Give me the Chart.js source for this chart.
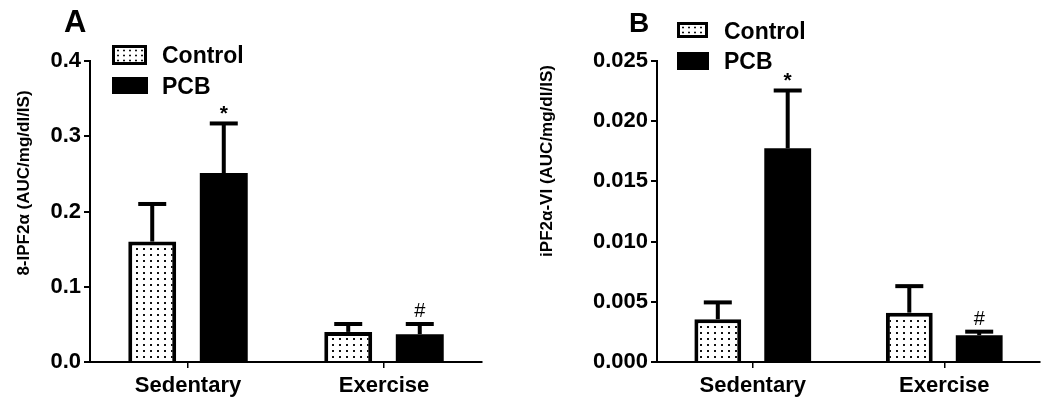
<!DOCTYPE html>
<html>
<head>
<meta charset="utf-8">
<script src="https://cdn.jsdelivr.net/npm/chart.js@4.4.1/dist/chart.umd.min.js"></script>
<style>
  body { margin: 0; background: #fff; width: 1050px; height: 403px; overflow: hidden; position: relative; font-family: "Liberation Sans", Arial, sans-serif; }
  canvas { position: absolute; top: 0; }
  #chartA { left: 0; }
  #chartB { left: 515px; }
  .lbl { position: absolute; font-weight: bold; line-height: 1; color: #000; white-space: nowrap; }
  .sw { position: absolute; box-sizing: border-box; background: #000; }
  .sw.ctrl { background-color: #fff; border: 3px solid #000;
    background-image: radial-gradient(circle, #111 0.9px, transparent 1.2px); background-size: 6px 5px; }
</style>
</head>
<body>
<canvas id="chartA" width="510" height="403"></canvas>
<canvas id="chartB" width="535" height="403"></canvas>

<div class="lbl" style="left:64px;top:6px;font-size:31px;">A</div>
<div class="lbl" style="left:629px;top:9px;font-size:28px;">B</div>

<!-- legend A -->
<div class="sw ctrl" style="left:112px;top:45px;width:35px;height:20px;"></div>
<div class="lbl" style="left:162px;top:44px;font-size:23px;">Control</div>
<div class="sw" style="left:112px;top:77px;width:36px;height:17px;"></div>
<div class="lbl" style="left:162px;top:75px;font-size:23px;">PCB</div>

<!-- legend B -->
<div class="sw ctrl" style="left:677px;top:22px;width:31px;height:16px;"></div>
<div class="lbl" style="left:724px;top:20px;font-size:23px;">Control</div>
<div class="sw" style="left:677px;top:52px;width:32px;height:18px;"></div>
<div class="lbl" style="left:724px;top:50px;font-size:23px;">PCB</div>

<script>
// data
const categories = ['Sedentary', 'Exercise'];

// panel A : 8-IPF2a
const controlA = [0.160, 0.040];
const controlAErr = [0.050, 0.0105];
const pcbA = [0.251, 0.037];
const pcbAErr = [0.066, 0.0135];
const ticksA = [0.0, 0.1, 0.2, 0.3, 0.4];

// panel B : iPF2a-VI
const controlB = [0.00355, 0.0041];
const controlBErr = [0.0014, 0.0022];
const pcbB = [0.01775, 0.00222];
const pcbBErr = [0.0048, 0.0003];
const ticksB = [0.000, 0.005, 0.010, 0.015, 0.020, 0.025];

// significance marks above the PCB bars
const pcbMarks = ['*', '#'];

Chart.defaults.color = '#000';
Chart.defaults.font.family = '"Liberation Sans", Arial, sans-serif';

function dotPattern() {
  const c = document.createElement('canvas');
  c.width = 7; c.height = 6;
  const g = c.getContext('2d');
  g.fillStyle = '#fff';
  g.fillRect(0, 0, 7, 6);
  g.fillStyle = '#111';
  g.fillRect(3, 2, 2, 2);
  return g.createPattern(c, 'repeat');
}

// upper error bars + marks
const errorBars = {
  id: 'errorBars',
  afterDatasetsDraw(chart) {
    const ctx = chart.ctx;
    const y = chart.scales.y;
    chart.data.datasets.forEach((ds, i) => {
      const meta = chart.getDatasetMeta(i);
      meta.data.forEach((bar, j) => {
        const top = y.getPixelForValue(ds.data[j] + ds.errors[j]);
        ctx.save();
        ctx.fillStyle = '#000';
        ctx.fillRect(bar.x - 2, top, 4, bar.y - top);
        ctx.fillRect(bar.x - 14, top - 2, 28, 4);
        if (ds.marks && ds.marks[j]) {
          const star = ds.marks[j] === '*';
          ctx.font = (star ? 'bold 21px' : '20px') + ' "Liberation Sans", Arial, sans-serif';
          ctx.textAlign = 'center';
          ctx.textBaseline = 'alphabetic';
          ctx.fillText(ds.marks[j], bar.x, top - (star ? 3 : 7));
        }
        ctx.restore();
      });
    });
  }
};

// rotated y title placed where the figure has it
const axisTitle = {
  id: 'axisTitle',
  afterDraw(chart, args, opts) {
    const ctx = chart.ctx;
    ctx.save();
    ctx.translate(opts.x, opts.y);
    ctx.rotate(-Math.PI / 2);
    ctx.font = 'bold 17px "Liberation Sans", Arial, sans-serif';
    ctx.fillStyle = '#000';
    ctx.textAlign = 'center';
    ctx.textBaseline = 'middle';
    ctx.fillText(opts.text, 0, 0);
    ctx.restore();
  }
};

function makeChart(id, ctrl, ctrlErr, pcb, pcbErr, ticks, digits, axisW, padRight, title) {
  const pattern = dotPattern();
  return new Chart(document.getElementById(id), {
    type: 'bar',
    data: {
      labels: categories,
      datasets: [{
        label: 'Control',
        data: ctrl,
        errors: ctrlErr,
        backgroundColor: pattern,
        borderColor: '#000',
        borderWidth: 4,
        barPercentage: 0.67,
        categoryPercentage: 0.73
      }, {
        label: 'PCB',
        data: pcb,
        errors: pcbErr,
        marks: pcbMarks,
        backgroundColor: '#000',
        borderWidth: 0,
        barPercentage: 0.67,
        categoryPercentage: 0.73
      }]
    },
    options: {
      responsive: false,
      animation: false,
      layout: { padding: { left: 0, right: padRight, top: 61, bottom: 0 } },
      plugins: {
        legend: { display: false },
        tooltip: { enabled: false },
        axisTitle: title
      },
      scales: {
        x: {
          grid: { display: true, drawOnChartArea: false, offset: false, color: '#000', lineWidth: 1.5, tickLength: 6 },
          border: { color: '#000', width: 2 },
          ticks: { font: { size: 22, weight: 'bold' }, padding: 5 },
          afterFit: s => { s.height = 41; }
        },
        y: {
          min: ticks[0],
          max: ticks[ticks.length - 1],
          grid: { display: true, drawOnChartArea: false, color: '#000', lineWidth: 2, tickLength: 6 },
          border: { color: '#000', width: 2 },
          ticks: {
            font: { size: 22, weight: 'bold' },
            padding: 3,
            callback: v => Number(v).toFixed(digits)
          },
          afterBuildTicks: s => { s.ticks = ticks.map(v => ({ value: v })); },
          afterFit: s => { s.width = axisW; }
        }
      }
    },
    plugins: [errorBars, axisTitle]
  });
}

makeChart('chartA', controlA, controlAErr, pcbA, pcbAErr, ticksA, 1, 90, 28,
  { text: '8-IPF2\u03b1 (AUC/mg/dl/IS)', x: 24, y: 183 });
makeChart('chartB', controlB, controlBErr, pcbB, pcbBErr, ticksB, 3, 142, 10,
  { text: 'iPF2\u03b1-VI (AUC/mg/dl/IS)', x: 32, y: 161 });
</script>
</body>
</html>
